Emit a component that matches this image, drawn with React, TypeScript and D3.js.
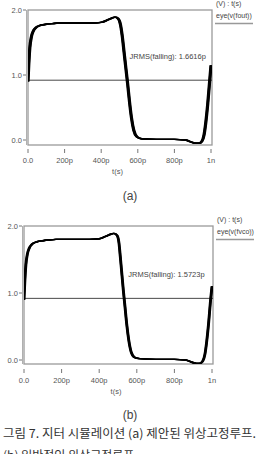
import * as d3 from "d3";

// axis ticks (time in ps, voltage in V)
const timeTicks = [0, 200, 400, 600, 800, 1000];
const timeLabels = ["0.0", "200p", "400p", "600p", "800p", "1n"];
const voltTicks = [0, 1, 2];
const voltLabels = ["0.0", "1.0", "2.0"];

// eye trace of v(fout), proposed PLL
const timesA = [0, 4, 10, 18, 28, 40, 55, 75, 100, 130, 170, 250, 350, 400, 430, 455, 475, 492, 505, 515, 525, 535, 545, 555, 565, 578, 595, 620, 700, 800, 860, 890, 915, 935, 950, 962, 972, 982, 991, 1000];
const voltsA = [0.9, 1.15, 1.42, 1.58, 1.67, 1.72, 1.75, 1.77, 1.78, 1.79, 1.8, 1.8, 1.8, 1.81, 1.84, 1.87, 1.89, 1.87, 1.78, 1.6, 1.35, 1.1, 0.85, 0.58, 0.35, 0.15, 0.05, 0.02, 0.01, 0.01, 0.0, -0.03, -0.05, -0.05, -0.02, 0.08, 0.28, 0.55, 0.85, 1.15];

// eye trace of v(fvco), conventional PLL
const timesB = [0, 4, 10, 18, 28, 40, 55, 75, 100, 130, 170, 250, 350, 400, 430, 455, 478, 495, 505, 512, 520, 528, 537, 547, 557, 570, 588, 615, 700, 800, 860, 890, 915, 935, 950, 962, 972, 982, 991, 1000];
const voltsB = [0.9, 1.15, 1.42, 1.58, 1.67, 1.72, 1.75, 1.77, 1.78, 1.79, 1.8, 1.8, 1.8, 1.81, 1.84, 1.87, 1.89, 1.86, 1.75, 1.55, 1.3, 1.05, 0.8, 0.52, 0.3, 0.12, 0.04, 0.02, 0.01, 0.01, 0.0, -0.03, -0.05, -0.05, -0.02, 0.08, 0.28, 0.55, 0.85, 1.1];

// time offsets of the overlaid eye traces (ps)
const jitterA = [-5, -2.5, 0, 2.5, 5];
const jitterB = [-4, -2, 0, 2, 4];
const thresholdV = 0.92;

type Layout = {
  left: number;
  right: number;
  frameRight: number;
  top: number;
  zero: number;
  bottom: number;
  axisY: number;
  tagY: number;
};

type EyeProps = {
  times: number[];
  volts: number[];
  jitter: number[];
  signal: string;
  jrms: string;
  layout: Layout;
  tag: string;
  id: string;
};

const EyeChart = ({ times, volts, jitter, signal, jrms, layout, tag, id }: EyeProps) => {
  const { left, right, frameRight, top, zero, bottom, axisY, tagY } = layout;
  const x = d3.scaleLinear().domain([0, 1000]).range([left, right]);
  const y = d3.scaleLinear().domain([0, 2]).range([zero, top]);
  const pts = times.map((t, i) => [t, volts[i]] as [number, number]);
  const font = "'Liberation Sans', Arial, sans-serif";

  return (
    <g fontFamily={font}>
      <defs>
        <clipPath id={id}>
          <rect x={left} y={top} width={frameRight - left} height={bottom - top} />
        </clipPath>
      </defs>

      {/* plot frame */}
      <rect x={left} y={top} width={frameRight - left} height={bottom - top} fill="none" stroke="#9a9a9a" strokeWidth={1.3} />
      <line x1={left - 1.5} x2={left - 1.5} y1={top} y2={bottom} stroke="#b0b0b0" strokeWidth={1} />

      {/* y axis */}
      {voltTicks.map((v, i) => (
        <g key={v}>
          <line x1={left - 5} x2={left - 2} y1={y(v)} y2={y(v)} stroke="#777" strokeWidth={1} />
          <text x={left - 6} y={y(v) + 2.5} fontSize={7.5} fill="#555" textAnchor="end">
            {voltLabels[i]}
          </text>
        </g>
      ))}

      {/* x axis */}
      {timeTicks.map((t, i) => (
        <g key={t}>
          <line x1={x(t)} x2={x(t)} y1={axisY - 1} y2={axisY + 3} stroke="#777" strokeWidth={1} />
          <text x={x(t)} y={axisY + 13} fontSize={7.5} fill="#555" textAnchor="middle">
            {timeLabels[i]}
          </text>
        </g>
      ))}
      <text x={(left + right) / 2 - 2} y={axisY + 24} fontSize={7.5} fill="#555" textAnchor="middle">
        t(s)
      </text>

      {/* threshold and eye traces */}
      <g clipPath={`url(#${id})`}>
        <line x1={left} x2={frameRight} y1={y(thresholdV)} y2={y(thresholdV)} stroke="#333" strokeWidth={0.9} />
        {jitter.map((dt) => {
          const path = d3
            .line<[number, number]>()
            .x((d) => x(d[0] + dt))
            .y((d) => y(d[1]))
            .curve(d3.curveMonotoneX)(pts);
          return <path key={dt} d={path ?? ""} fill="none" stroke="#000" strokeWidth={1.4} />;
        })}
      </g>

      <text x={x(555)} y={y(1.24)} fontSize={7.5} fill="#444">
        {jrms}
      </text>

      {/* legend */}
      <text x={frameRight + 4} y={top - 4} fontSize={7} fill="#444">
        (V) : t(s)
      </text>
      <text x={frameRight + 4} y={top + 8} fontSize={7} fill="#444">
        {signal}
      </text>
      <line x1={frameRight + 3} x2={frameRight + 41} y1={top + 13.5} y2={top + 13.5} stroke="#999" strokeWidth={1.3} />

      <text x={130} y={tagY} fontSize={12} fill="#444" textAnchor="middle">
        {tag}
      </text>
    </g>
  );
};

export default function App() {
  return (
    <svg width={260} height={454} style={{ position: "absolute", left: 0, top: 0, background: "#fff" }}>
      <EyeChart
        id="clipA"
        times={timesA}
        volts={voltsA}
        jitter={jitterA}
        signal="eye(v(fout))"
        jrms="JRMS(falling): 1.6616p"
        tag="(a)"
        layout={{ left: 28, right: 211, frameRight: 212, top: 10, zero: 140, bottom: 145, axisY: 150, tagY: 200 }}
      />
      <EyeChart
        id="clipB"
        times={timesB}
        volts={voltsB}
        jitter={jitterB}
        signal="eye(v(fvco))"
        jrms="JRMS(falling): 1.5723p"
        tag="(b)"
        layout={{ left: 24, right: 212, frameRight: 213, top: 226, zero: 360, bottom: 364, axisY: 370, tagY: 419 }}
      />
      <g fontFamily="'Noto Sans CJK KR', sans-serif" fill="#333" fontSize={12}>
        <text x={3} y={438} textLength={253} lengthAdjust="spacingAndGlyphs">
          그림 7. 지터 시뮬레이션 (a) 제안된 위상고정루프.
        </text>
        <text x={3} y={460}>
          (b) 일반적인 위상고정루프
        </text>
      </g>
    </svg>
  );
}
